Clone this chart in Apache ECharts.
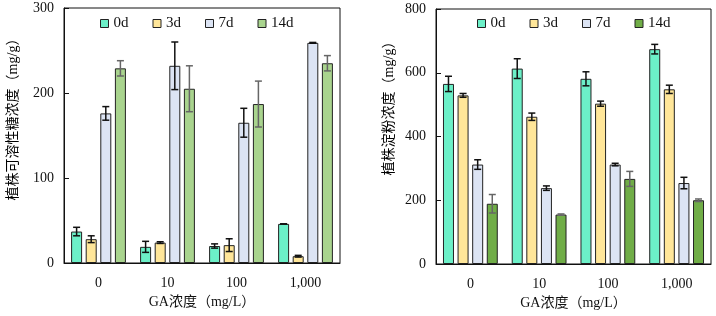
<!DOCTYPE html>
<html>
<head>
<meta charset="utf-8">
<script src="https://cdn.jsdelivr.net/npm/echarts@6/dist/echarts.min.js"></script>
<style>html,body{margin:0;padding:0;background:#fff;}#c{width:716px;height:316px;}</style>
</head>
<body>
<div id="c"></div>
<script>
// ---- data ----
var categories = ['0', '10', '100', '1,000'];
var seriesNames = ['0d', '3d', '7d', '14d'];
var sugarTicks = [0, 100, 200, 300];
var starchTicks = [0, 200, 400, 600, 800];

var sugar0d = [37, 19, 20, 46];
var sugar0dErr = [5, 6.5, 2.5, 0];
var sugar3d = [28, 24, 21, 8];
var sugar3dErr = [4, 1, 7.5, 1];
var sugar7d = [176, 232, 165, 259];
var sugar7dErr = [8, 28, 17, 0.5];
var sugar14d = [229, 205, 187, 235];
var sugar14dErr = [9, 27, 27, 9];

var starch0d = [565, 613, 581, 674];
var starch0dErr = [24, 31, 22, 15];
var starch3d = [529, 462, 503, 548];
var starch3dErr = [6, 11.5, 8, 13];
var starch7d = [312, 238, 312, 254];
var starch7dErr = [15, 7, 4, 18];
var starch14d = [189, 155, 267, 200];
var starch14dErr = [29, 2, 23.5, 4];

// ---- styles ----
var serif = '"Liberation Serif", "Times New Roman", "Noto Sans CJK SC", serif';
var colorsLeft = ['#6cf0c8', '#ffe699', '#dce4f4', '#a9d48e'];
var colorsRight = ['#6cf0c8', '#ffe699', '#dce4f4', '#70ad47'];
var errColors = ['#111', '#111', '#111', '#666'];
var BAR_W = 11, GAP_PX = 3.6;

var chart = echarts.init(document.getElementById('c'), null, {renderer: 'canvas'});

function barSeries(name, data, color, idx) {
  return {
    name: name, type: 'bar', data: data,
    xAxisIndex: idx, yAxisIndex: idx,
    barWidth: BAR_W, barGap: (GAP_PX / BAR_W * 100) + '%',
    itemStyle: {color: color, borderColor: '#222', borderWidth: 1},
    emphasis: {disabled: true},
    z: 2
  };
}
function errSeries(name, vals, errs, k, idx) {
  var d = vals.map(function (v, i) { return [i, v - errs[i], v + errs[i]]; });
  return {
    name: name, type: 'custom', data: d,
    xAxisIndex: idx, yAxisIndex: idx, z: 5,
    encode: {x: 0, y: [1, 2]},
    renderItem: function (params, api) {
      var x = api.value(0);
      var lo = api.coord([x, api.value(1)]);
      var hi = api.coord([x, api.value(2)]);
      var off = (k - 1.5) * (BAR_W + GAP_PX);
      var cx = lo[0] + off;
      var hw = 3.5;
      var st = {stroke: errColors[k], lineWidth: 1.5};
      return {
        type: 'group',
        children: [
          {type: 'line', shape: {x1: cx, y1: lo[1], x2: cx, y2: hi[1]}, style: st},
          {type: 'line', shape: {x1: cx - hw, y1: lo[1], x2: cx + hw, y2: lo[1]}, style: st},
          {type: 'line', shape: {x1: cx - hw, y1: hi[1], x2: cx + hw, y2: hi[1]}, style: st}
        ]
      };
    }
  };
}

function xAx(idx) {
  return {
    type: 'category', data: categories, gridIndex: idx,
    axisLine: {lineStyle: {color: '#111', width: 1}},
    axisTick: {show: false},
    axisLabel: {color: '#111', fontFamily: serif, fontSize: 14, margin: 13},
    name: 'GA浓度（mg/L）', nameLocation: 'middle', nameGap: 31,
    nameTextStyle: {color: '#111', fontFamily: serif, fontSize: 14}
  };
}
function yAx(idx, ticks) {
  return {
    type: 'value', gridIndex: idx,
    min: ticks[0], max: ticks[ticks.length - 1], interval: ticks[1] - ticks[0],
    axisLine: {show: true, lineStyle: {color: '#111', width: 1}},
    axisTick: {show: true, inside: true, length: 5, lineStyle: {color: '#111'}},
    axisLabel: {color: '#111', fontFamily: serif, fontSize: 14, margin: 10},
    splitLine: {show: false}
  };
}

var sugarVals = [sugar0d, sugar3d, sugar7d, sugar14d];
var sugarErrs = [sugar0dErr, sugar3dErr, sugar7dErr, sugar14dErr];
var starchVals = [starch0d, starch3d, starch7d, starch14d];
var starchErrs = [starch0dErr, starch3dErr, starch7dErr, starch14dErr];

var series = [];
for (var k = 0; k < 4; k++) series.push(barSeries(seriesNames[k], sugarVals[k], colorsLeft[k], 0));
for (var k = 0; k < 4; k++) series.push(barSeries(seriesNames[k], starchVals[k], colorsRight[k], 1));
for (var k = 0; k < 4; k++) series.push(errSeries(seriesNames[k], sugarVals[k], sugarErrs[k], k, 0));
for (var k = 0; k < 4; k++) series.push(errSeries(seriesNames[k], starchVals[k], starchErrs[k], k, 1));

var legendBase = {
  orient: 'horizontal', top: 16, itemWidth: 8, itemHeight: 8, itemGap: 24,
  icon: 'rect', selectedMode: false, padding: 0,
  textStyle: {color: '#111', fontFamily: serif, fontSize: 15}
};

var option = {
  animation: false,
  backgroundColor: '#fff',
  grid: [
    {left: 64, top: 8, width: 276, height: 255, show: true, borderColor: '#111', borderWidth: 1, backgroundColor: 'transparent'},
    {left: 436, top: 9, width: 275, height: 255, show: true, borderColor: '#111', borderWidth: 1, backgroundColor: 'transparent'}
  ],
  xAxis: [xAx(0), xAx(1)],
  yAxis: [yAx(0, sugarTicks), yAx(1, starchTicks)],
  legend: [
    Object.assign({}, legendBase, {left: 100, data: seriesNames.map(function (n, i) { return {name: n, itemStyle: {color: colorsLeft[i], borderColor: '#222', borderWidth: 1}}; })}),
    Object.assign({}, legendBase, {left: 477, data: seriesNames.map(function (n, i) { return {name: n, itemStyle: {color: colorsRight[i], borderColor: '#222', borderWidth: 1}}; })})
  ],
  graphic: [
    {type: 'text', x: 13, y: 116, rotation: Math.PI / 2,
     style: {text: '植株可溶性糖浓度（mg/g）', fill: '#000', font: '14px ' + serif, align: 'center', verticalAlign: 'middle'}},
    {type: 'text', x: 389, y: 105, rotation: Math.PI / 2,
     style: {text: '植株淀粉浓度（mg/g）', fill: '#000', font: '14px ' + serif, align: 'center', verticalAlign: 'middle'}}
  ],
  series: series
};
chart.setOption(option);
</script>
</body>
</html>
